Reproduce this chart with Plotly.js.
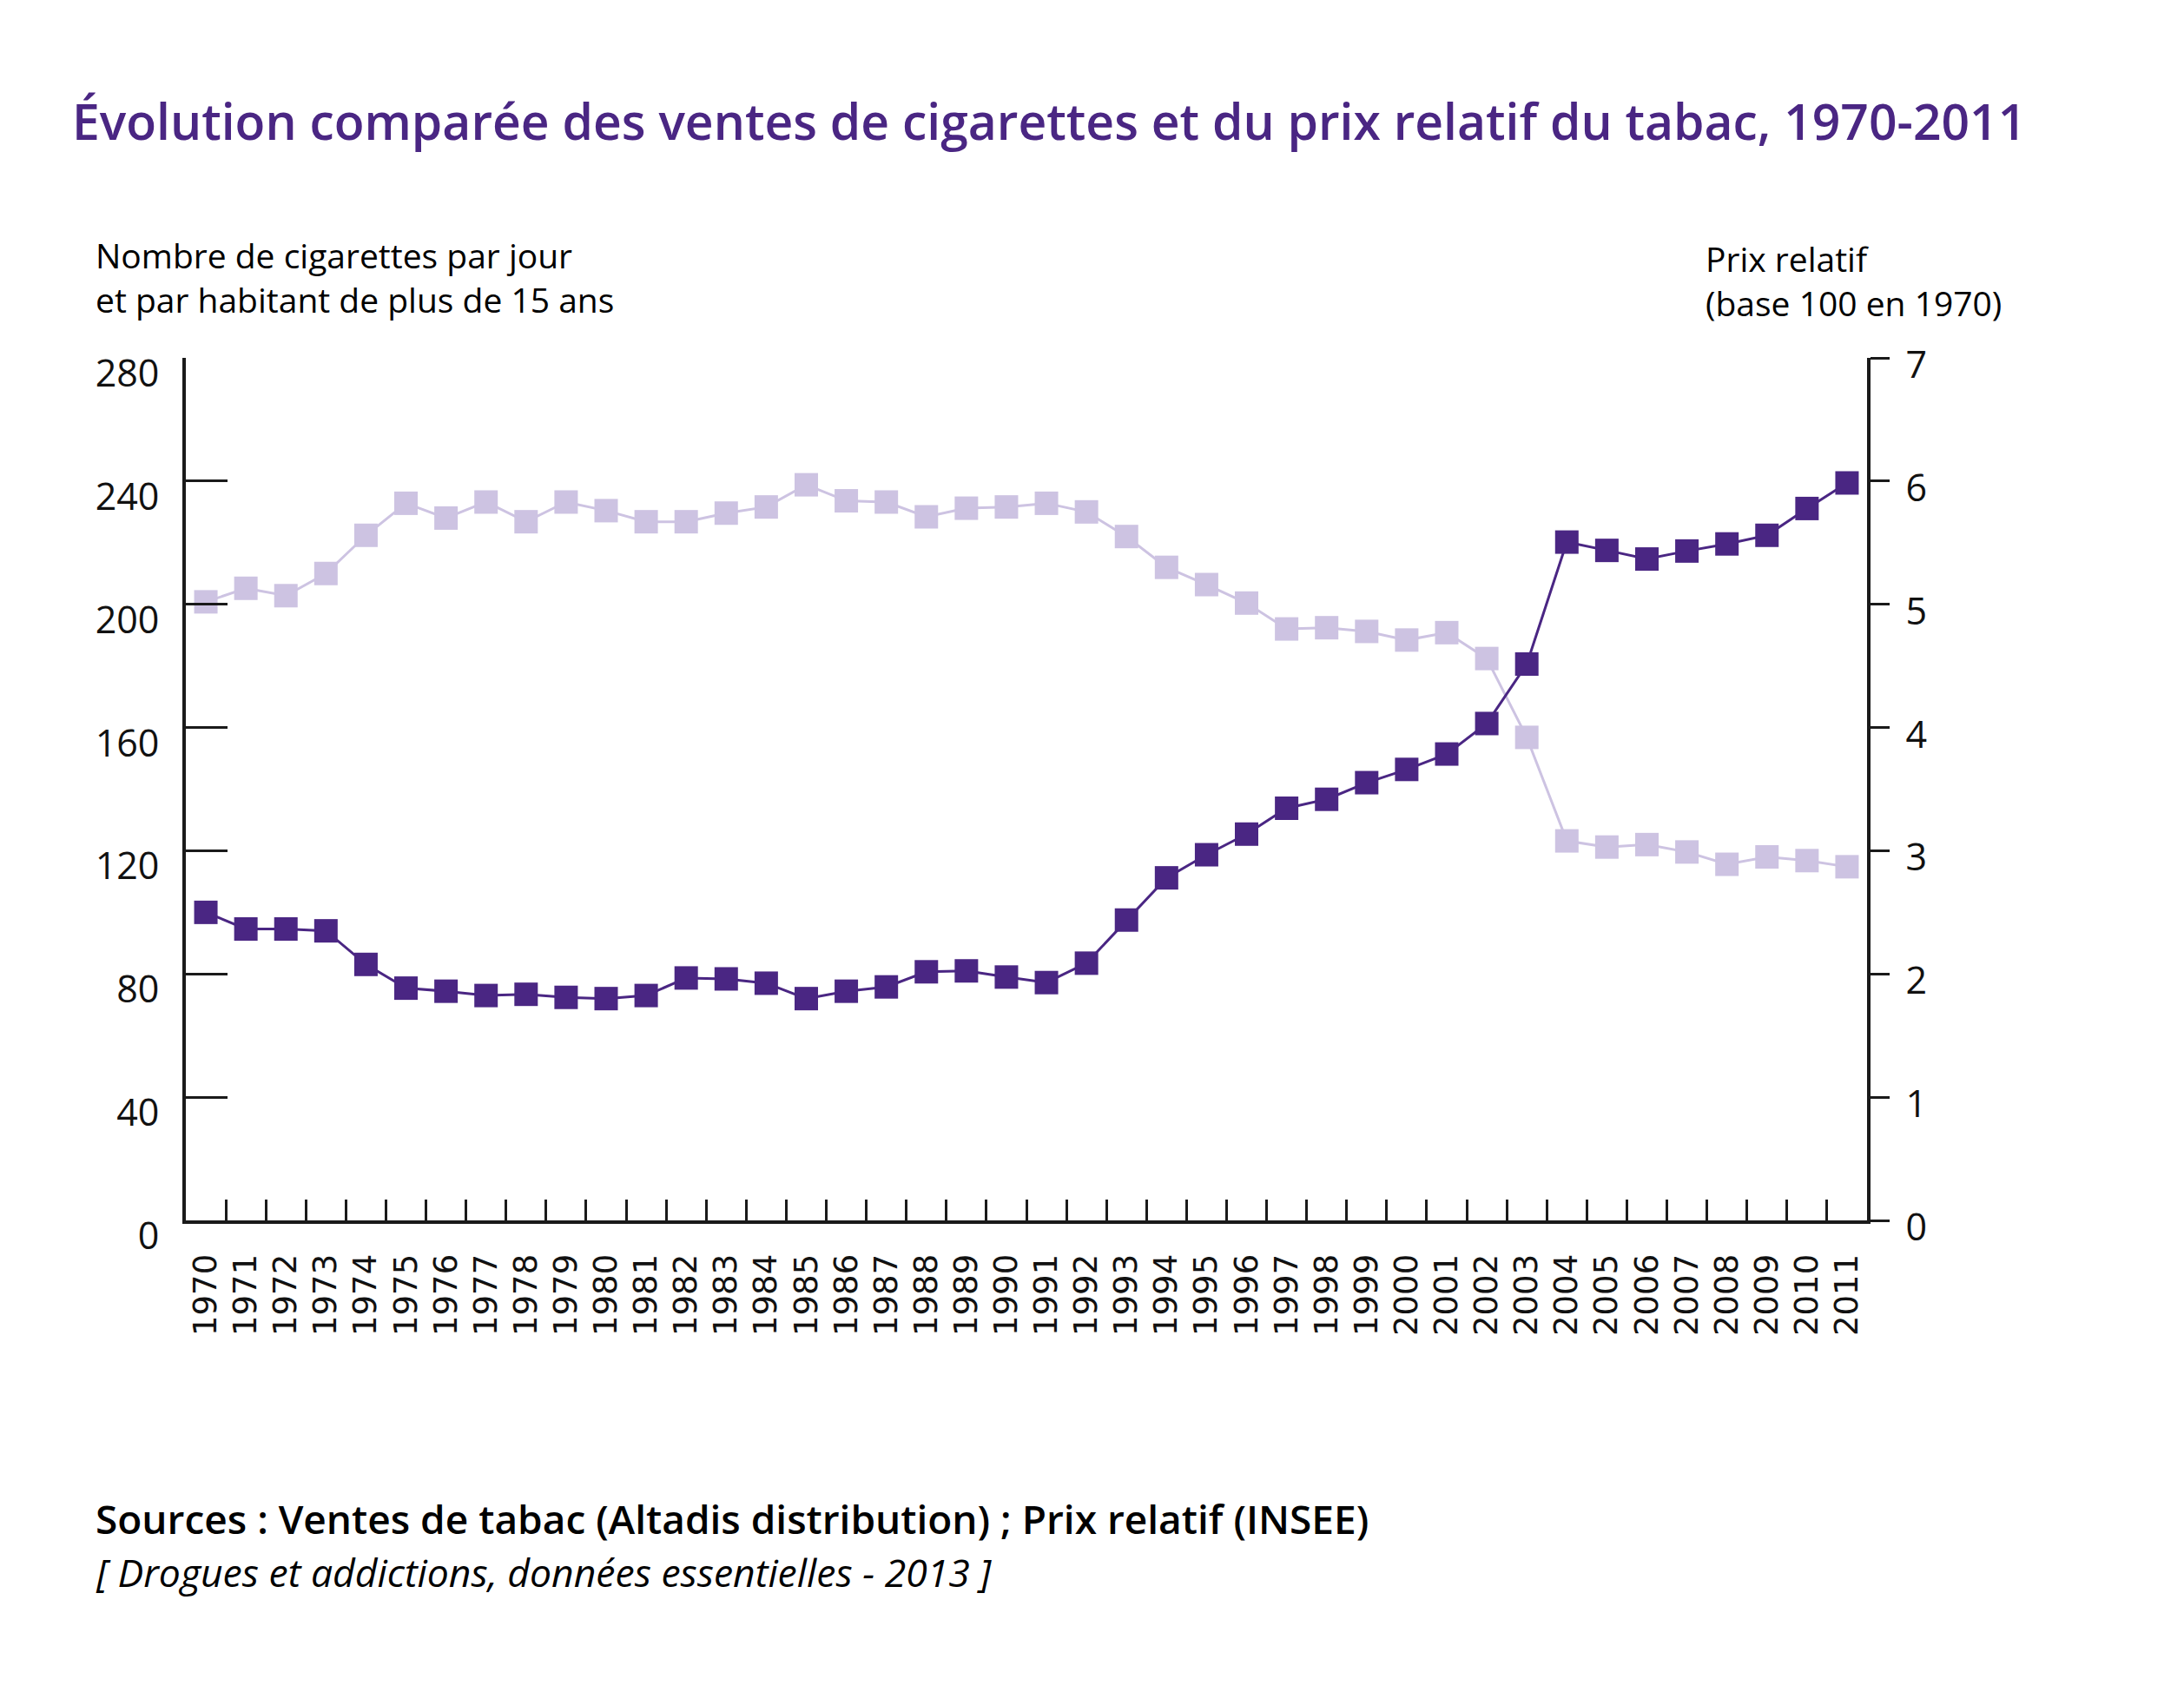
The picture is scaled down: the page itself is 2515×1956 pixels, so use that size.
<!DOCTYPE html>
<html>
<head>
<meta charset="utf-8">
<script src="https://cdn.plot.ly/plotly-3.0.1.min.js"></script>
<style>
  html, body { margin: 0; padding: 0; background: #fff; }
  #chart { width: 2515px; height: 1956px; }
</style>
</head>
<body>
<div id="chart"></div>
<script>
// années (catégories de l'axe x)
const annees = ["1970","1971","1972","1973","1974","1975","1976","1977","1978","1979",
                "1980","1981","1982","1983","1984","1985","1986","1987","1988","1989",
                "1990","1991","1992","1993","1994","1995","1996","1997","1998","1999",
                "2000","2001","2002","2003","2004","2005","2006","2007","2008","2009",
                "2010","2011"];

// prix relatif du tabac, base 100 en 1970 (échelle de gauche)
const prixRelatif = [100, 94.6, 94.6, 94.0, 83.1, 75.4, 74.4, 73.0, 73.4, 72.4,
                     72.0, 73.0, 78.7, 78.4, 77.0, 72.0, 74.4, 75.8, 80.7, 81.0,
                     79.0, 77.2, 83.5, 97.5, 111.2, 118.7, 125.4, 133.8, 136.7, 142.1,
                     146.4, 151.4, 161.3, 180.6, 220.2, 217.5, 214.7, 217.3, 219.6, 222.4,
                     231.1, 239.4];

// cigarettes par jour et par habitant de 15 ans et plus (échelle de droite)
const cigarettes = [5.02, 5.13, 5.07, 5.25, 5.56, 5.82, 5.70, 5.83, 5.67, 5.83,
                    5.76, 5.67, 5.67, 5.74, 5.79, 5.97, 5.84, 5.83, 5.71, 5.78,
                    5.79, 5.82, 5.75, 5.55, 5.30, 5.16, 5.01, 4.80, 4.81, 4.78,
                    4.71, 4.77, 4.56, 3.92, 3.08, 3.03, 3.05, 2.99, 2.89, 2.95,
                    2.92, 2.87];

const ticksGauche = [0, 40, 80, 120, 160, 200, 240, 280];
const ticksDroite = [0, 1, 2, 3, 4, 5, 6, 7];

const VIOLET = '#4a2683';
const LAVANDE = '#cdc3e2';
const NOIR = '#1a1a1a';

// zone de tracé en pixels
const W = 2515, H = 1956;
const M = { l: 214, r: 365, t: 412, b: 551 };
const plotW = W - M.l - M.r, plotH = H - M.t - M.b;
const px = x => (x - M.l) / plotW;       // pixel -> paper x
const py = y => (H - M.b - y) / plotH;   // pixel -> paper y

const traces = [
  {
    x: annees, y: cigarettes, yaxis: 'y',
    mode: 'lines+markers', type: 'scatter',
    line: { color: LAVANDE, width: 3 },
    marker: { symbol: 'square', size: 27, color: LAVANDE },
    hoverinfo: 'none'
  },
  {
    x: annees, y: prixRelatif, yaxis: 'y2',
    mode: 'lines+markers', type: 'scatter',
    line: { color: VIOLET, width: 3 },
    marker: { symbol: 'square', size: 27, color: VIOLET },
    hoverinfo: 'none'
  }
];

const texte = (t, x, y, size, opts) => Object.assign({
  text: t, xref: 'paper', yref: 'paper', x: px(x), y: py(y),
  xanchor: 'left', yanchor: 'bottom', align: 'left', showarrow: false,
  font: { family: 'Open Sans', size: size, color: '#000' }
}, opts || {});

const annotations = [
  texte('Nombre de cigarettes par jour<br>et par habitant de plus de 15 ans', 108, 373, 39),
  texte('Prix relatif<br>(base 100 en 1970)', 1962, 377, 39),
  texte('Sources : Ventes de tabac (Altadis distribution) ; Prix relatif (INSEE)', 108, 1781, 46,
        { font: { family: 'Open Sans', size: 46, weight: 600, color: '#000' } }),
  texte('<i>[ Drogues et addictions, données essentielles - 2013 ]</i>', 108, 1842, 44.5)
];

const axeY = {
  showgrid: false, zeroline: false, showline: true,
  linecolor: NOIR, linewidth: 4,
  tickcolor: NOIR, tickwidth: 3,
  tickfont: { family: 'Open Sans', size: 43, color: '#111' }
};

const layout = {
  width: W, height: H,
  margin: M,
  paper_bgcolor: '#fff', plot_bgcolor: '#fff',
  showlegend: false,
  title: {
    text: 'Évolution comparée des ventes de cigarettes et du prix relatif du tabac, 1970-2011',
    font: { family: 'Open Sans', size: 57, weight: 600, color: VIOLET },
    xref: 'container', yref: 'container',
    x: 83 / W, xanchor: 'left',
    y: 1 - 141 / H, yanchor: 'middle'
  },
  xaxis: {
    type: 'category', categoryorder: 'array', categoryarray: annees,
    range: [-0.5, annees.length - 0.5],
    showgrid: false, zeroline: false, showline: true,
    linecolor: NOIR, linewidth: 4,
    ticks: 'inside', tickson: 'boundaries', ticklen: 24,
    tickcolor: NOIR, tickwidth: 3,
    tickangle: -90, ticklabelstandoff: 20,
    tickfont: { family: 'DejaVu Sans', size: 37, color: '#111' }
  },
  yaxis: Object.assign({}, axeY, {
    side: 'right', range: [0, 7],
    tickvals: ticksDroite, ticks: 'outside', ticklen: 22,
    ticklabelshift: 8, ticklabelstandoff: 10
  }),
  yaxis2: Object.assign({}, axeY, {
    side: 'left', overlaying: 'y', range: [0, 280],
    tickvals: ticksGauche, ticks: 'inside', ticklen: 48,
    ticklabelshift: 18, ticklabelstandoff: 18
  }),
  annotations: annotations
};

Plotly.newPlot('chart', traces, layout, { displayModeBar: false, staticPlot: true });
</script>
</body>
</html>
